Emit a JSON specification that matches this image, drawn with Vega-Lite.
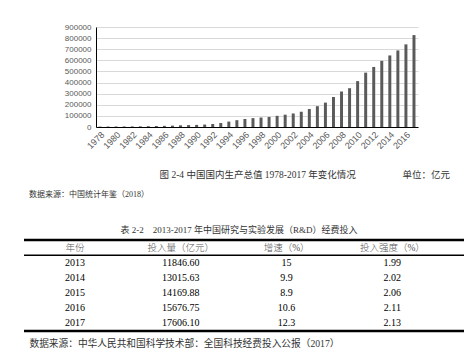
{
  "$schema": "https://vega.github.io/schema/vega-lite/v6.json",
  "background": "white",
  "padding": {"left": 22, "top": 23, "right": 5, "bottom": 0},
  "config": {
    "view": {"stroke": null},
    "font": "Liberation Serif, Noto Sans CJK SC",
    "title": {"font": "Liberation Serif, Noto Sans CJK SC", "fontWeight": "normal", "color": "#333"},
    "axis": {"titleFont": "Liberation Serif, Noto Sans CJK SC", "titleFontWeight": "normal", "titleColor": "#333"}
  },
  "datasets": {
    "gdp": [
      {"year": 1978, "gdp": 3678.7}, {"year": 1979, "gdp": 4100.5}, {"year": 1980, "gdp": 4587.6},
      {"year": 1981, "gdp": 4935.8}, {"year": 1982, "gdp": 5373.4}, {"year": 1983, "gdp": 6020.9},
      {"year": 1984, "gdp": 7278.5}, {"year": 1985, "gdp": 9098.9}, {"year": 1986, "gdp": 10376.2},
      {"year": 1987, "gdp": 12174.6}, {"year": 1988, "gdp": 15180.4}, {"year": 1989, "gdp": 17179.7},
      {"year": 1990, "gdp": 18872.9}, {"year": 1991, "gdp": 22005.6}, {"year": 1992, "gdp": 27194.5},
      {"year": 1993, "gdp": 35673.2}, {"year": 1994, "gdp": 48637.5}, {"year": 1995, "gdp": 61339.9},
      {"year": 1996, "gdp": 71813.6}, {"year": 1997, "gdp": 79715.0}, {"year": 1998, "gdp": 85195.5},
      {"year": 1999, "gdp": 90564.4}, {"year": 2000, "gdp": 100280.1}, {"year": 2001, "gdp": 110863.1},
      {"year": 2002, "gdp": 121717.4}, {"year": 2003, "gdp": 137422.0}, {"year": 2004, "gdp": 161840.2},
      {"year": 2005, "gdp": 187318.9}, {"year": 2006, "gdp": 219438.5}, {"year": 2007, "gdp": 270232.3},
      {"year": 2008, "gdp": 319515.5}, {"year": 2009, "gdp": 349081.4}, {"year": 2010, "gdp": 413030.3},
      {"year": 2011, "gdp": 489300.6}, {"year": 2012, "gdp": 540367.4}, {"year": 2013, "gdp": 595244.4},
      {"year": 2014, "gdp": 643974.0}, {"year": 2015, "gdp": 689052.1}, {"year": 2016, "gdp": 743585.5},
      {"year": 2017, "gdp": 827121.7}
    ],
    "rd": [
      {"年份": "2013", "投入量（亿元）": "11846.60", "增速（%）": "15", "投入强度（%）": "1.99"},
      {"年份": "2014", "投入量（亿元）": "13015.63", "增速（%）": "9.9", "投入强度（%）": "2.02"},
      {"年份": "2015", "投入量（亿元）": "14169.88", "增速（%）": "8.9", "投入强度（%）": "2.06"},
      {"年份": "2016", "投入量（亿元）": "15676.75", "增速（%）": "10.6", "投入强度（%）": "2.11"},
      {"年份": "2017", "投入量（亿元）": "17606.10", "增速（%）": "12.3", "投入强度（%）": "2.13"}
    ]
  },
  "spacing": 25,
  "bounds": "full",
  "vconcat": [
    {
      "spacing": 0,
      "bounds": "flush",
      "hconcat": [
        {"width": 72, "height": 100, "data": {"values": []}, "mark": "point", "encoding": {}},
        {
          "width": 322,
          "height": 100,
          "data": {"name": "gdp"},
          "title": {
            "text": "数据来源：中国统计年鉴（2018）",
            "orient": "bottom",
            "anchor": "start",
            "frame": "group",
            "dx": -67,
            "offset": 12,
            "fontSize": 8
          },
          "mark": {"type": "bar", "color": "#5a5a5a"},
          "encoding": {
            "x": {
              "field": "year",
              "type": "ordinal",
              "scale": {"paddingInner": 0.63, "paddingOuter": 0.315},
              "axis": {
                "values": [1978, 1980, 1982, 1984, 1986, 1988, 1990, 1992, 1994, 1996, 1998, 2000, 2002, 2004, 2006, 2008, 2010, 2012, 2014, 2016],
                "labelAngle": -45,
                "ticks": false,
                "domainColor": "#000000",
                "labelFont": "Liberation Sans",
                "labelFontSize": 9,
                "labelColor": "#595959",
                "labelPadding": 3,
                "title": "图 2-4 中国国内生产总值 1978-2017 年变化情况",
                "titleFontSize": 9.5,
                "titleAlign": "left",
                "titleX": 63,
                "titlePadding": 19
              }
            },
            "y": {
              "field": "gdp",
              "type": "quantitative",
              "scale": {"domain": [0, 900000]},
              "axis": {
                "values": [0, 100000, 200000, 300000, 400000, 500000, 600000, 700000, 800000, 900000],
                "format": "d",
                "title": "单位：亿元",
                "titleAngle": 0,
                "titleAlign": "left",
                "titleBaseline": "middle",
                "titleX": 306,
                "titleY": 147,
                "titleFontSize": 9.5,
                "ticks": false,
                "domainColor": "#000000",
                "gridColor": "#d9d9d9",
                "labelFont": "Liberation Sans",
                "labelFontSize": 8,
                "labelColor": "#595959",
                "labelPadding": 5
              }
            }
          }
        }
      ]
    },
    {
      "width": 440,
      "height": 91,
      "data": {"name": "rd"},
      "title": {
        "text": "表 2-2\u30002013-2017 年中国研究与实验发展（R&D）经费投入",
        "anchor": "middle",
        "fontSize": 9,
        "offset": 4,
        "dx": -5
      },
      "encoding": {
        "y": {
          "field": "年份",
          "type": "nominal",
          "scale": {"domain": ["年份", "2013", "2014", "2015", "2016", "2017"], "paddingInner": 0, "paddingOuter": 0},
          "axis": null
        }
      },
      "layer": [
        {
          "transform": [{"fold": ["年份", "投入量（亿元）", "增速（%）", "投入强度（%）"], "as": ["col", "val"]}],
          "mark": {"type": "text", "fontSize": 10, "color": "#000000"},
          "encoding": {
            "x": {
              "field": "col",
              "type": "nominal",
              "scale": {"type": "point", "domain": ["年份", "投入量（亿元）", "增速（%）", "投入强度（%）"], "padding": 0.58, "align": 0.416},
              "axis": {
                "labels": false,
                "ticks": false,
                "domain": false,
                "grid": false,
                "title": "数据来源：中华人民共和国科学技术部：全国科技经费投入公报（2017）",
                "titleFontSize": 9.7,
                "titleAlign": "left",
                "titleX": 5,
                "titlePadding": 7
              }
            },
            "text": {"field": "val"}
          }
        },
        {
          "transform": [
            {"filter": "datum['年份'] == '2013'"},
            {"fold": ["年份", "投入量（亿元）", "增速（%）", "投入强度（%）"], "as": ["col", "val"]}
          ],
          "mark": {"type": "text", "fontSize": 9.5, "color": "#555555", "fontWeight": 300},
          "encoding": {
            "x": {"field": "col", "type": "nominal"},
            "y": {"datum": "年份"},
            "text": {"field": "col"}
          }
        },
        {
          "transform": [{"filter": "datum['年份'] == '2013'"}],
          "mark": {"type": "rule", "color": "#000000", "strokeWidth": 2.5},
          "encoding": {"y": {"datum": "年份", "bandPosition": 0}}
        },
        {
          "transform": [{"filter": "datum['年份'] == '2013'"}],
          "mark": {"type": "rule", "color": "#000000", "strokeWidth": 1.5},
          "encoding": {"y": {"datum": "年份", "bandPosition": 1}}
        },
        {
          "transform": [{"filter": "datum['年份'] == '2013'"}],
          "mark": {"type": "rule", "color": "#000000", "strokeWidth": 2.5},
          "encoding": {"y": {"datum": "2017", "bandPosition": 1}}
        }
      ]
    }
  ]
}
